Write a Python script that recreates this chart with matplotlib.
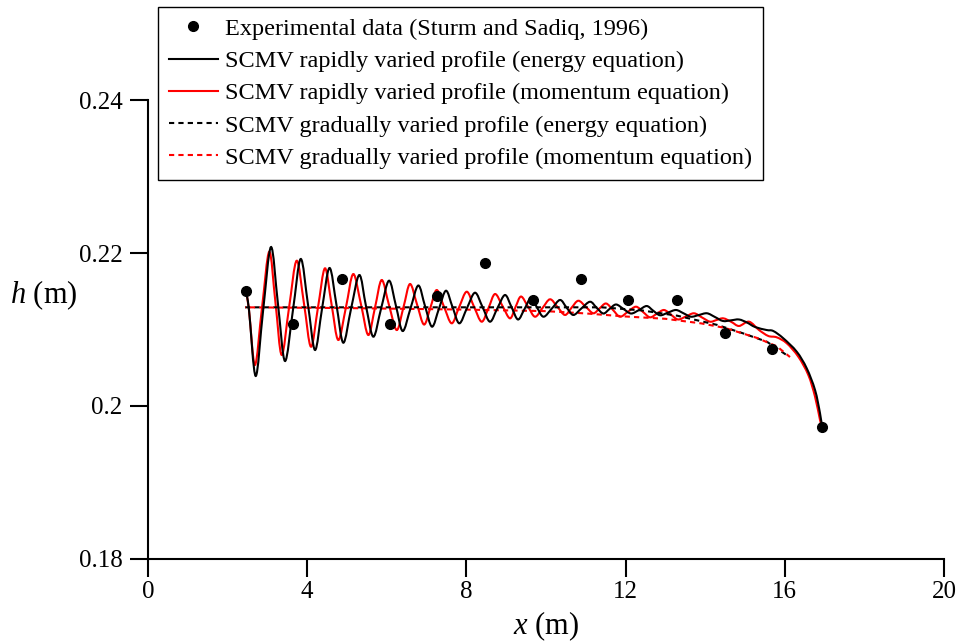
import matplotlib
matplotlib.use('Agg')
import matplotlib.pyplot as plt
from matplotlib.path import Path
from matplotlib.patches import PathPatch
from matplotlib.lines import Line2D

# experimental data (Sturm and Sadiq, 1996)
x_exp = [2.46, 3.64, 4.87, 6.08, 7.26, 8.47, 9.67, 10.88, 12.06, 13.29, 14.50, 15.68, 16.93]
h_exp = [0.2150, 0.2107, 0.2166, 0.2107, 0.2144, 0.2187, 0.2139, 0.2166, 0.2139, 0.2139, 0.2095, 0.2075, 0.1973]

# SCMV rapidly varied profile (energy equation): peaks, troughs and mid crossings
x_rv_e = [2.462, 2.538, 2.706, 2.889, 3.090, 3.266, 3.442, 3.643, 3.837, 4.020,
          4.196, 4.372, 4.560, 4.736, 4.907, 5.101, 5.309, 5.477, 5.661, 5.854,
          6.055, 6.231, 6.399, 6.595, 6.791, 6.960, 7.136, 7.312, 7.487, 7.651,
          7.822, 8.015, 8.216, 8.405, 8.593, 8.781, 8.970, 9.133, 9.296, 9.460,
          9.623, 9.774, 9.937, 10.151, 10.352, 10.515, 10.686, 10.892, 11.106, 11.269,
          11.440, 11.595, 11.759, 11.947, 12.136, 12.337, 12.530, 12.688, 12.864, 13.065,
          13.266, 13.455, 13.643, 13.844, 14.045, 14.246, 14.447, 14.648, 14.849, 15.050,
          15.251, 15.545, 15.711, 15.962, 16.299, 16.550, 16.759, 16.884, 16.935]
h_rv_e = [0.21503, 0.21255, 0.20392, 0.21229, 0.22078, 0.21333, 0.20588, 0.21255, 0.21922, 0.21327,
          0.20732, 0.21268, 0.21804, 0.21320, 0.20827, 0.21268, 0.21712, 0.21307, 0.20906, 0.21268,
          0.21638, 0.21307, 0.20980, 0.21275, 0.21575, 0.21307, 0.21037, 0.21275, 0.21507, 0.21294,
          0.21081, 0.21281, 0.21481, 0.21294, 0.21102, 0.21281, 0.21451, 0.21294, 0.21131, 0.21268,
          0.21412, 0.21288, 0.21167, 0.21277, 0.21386, 0.21288, 0.21190, 0.21277, 0.21363, 0.21286,
          0.21209, 0.21268, 0.21327, 0.21268, 0.21209, 0.21255, 0.21307, 0.21248, 0.21186, 0.21221,
          0.21255, 0.21212, 0.21167, 0.21190, 0.21212, 0.21163, 0.21111, 0.21120, 0.21131, 0.21091,
          0.21033, 0.20993, 0.20980, 0.20885, 0.20710, 0.20493, 0.20209, 0.19905, 0.19726]

# SCMV rapidly varied profile (momentum equation)
x_rv_m = [2.462, 2.538, 2.688, 2.864, 3.048, 3.204, 3.359, 3.543, 3.736, 3.920,
          4.095, 4.271, 4.447, 4.611, 4.781, 4.975, 5.158, 5.352, 5.535, 5.704,
          5.872, 6.055, 6.249, 6.420, 6.583, 6.759, 6.935, 7.098, 7.254, 7.437,
          7.631, 7.814, 8.008, 8.191, 8.384, 8.555, 8.719, 8.907, 9.095, 9.234,
          9.372, 9.548, 9.724, 9.912, 10.101, 10.289, 10.477, 10.641, 10.812, 11.005,
          11.188, 11.344, 11.508, 11.683, 11.859, 12.060, 12.261, 12.437, 12.613, 12.789,
          12.965, 13.141, 13.317, 13.518, 13.719, 13.920, 14.121, 14.284, 14.455, 14.661,
          14.849, 15.101, 15.352, 15.586, 15.796, 16.048, 16.339, 16.590, 16.759, 16.884,
          16.935]
h_rv_m = [0.21503, 0.21255, 0.20536, 0.21281, 0.22017, 0.21346, 0.20667, 0.21281, 0.21899, 0.21337,
          0.20775, 0.21288, 0.21800, 0.21333, 0.20863, 0.21294, 0.21725, 0.21327, 0.20928, 0.21288,
          0.21647, 0.21320, 0.20993, 0.21294, 0.21595, 0.21329, 0.21065, 0.21290, 0.21516, 0.21298,
          0.21081, 0.21288, 0.21494, 0.21298, 0.21102, 0.21281, 0.21464, 0.21307, 0.21146, 0.21294,
          0.21431, 0.21299, 0.21167, 0.21281, 0.21395, 0.21294, 0.21190, 0.21284, 0.21376, 0.21294,
          0.21212, 0.21275, 0.21340, 0.21255, 0.21167, 0.21233, 0.21298, 0.21229, 0.21159, 0.21208,
          0.21255, 0.21193, 0.21131, 0.21171, 0.21212, 0.21157, 0.21102, 0.21124, 0.21146, 0.21098,
          0.21046, 0.21102, 0.20993, 0.20915, 0.20898, 0.20820, 0.20644, 0.20405, 0.20122, 0.19817,
          0.19726]

# SCMV gradually varied profiles
x_gv_e = [2.44, 11.4, 12.4, 13.3, 14.3, 14.95, 15.55, 16.09]
h_gv_e = [0.2129, 0.2129, 0.2125, 0.2118, 0.2106, 0.2095, 0.2084, 0.2065]
x_gv_m = [2.44, 5.0, 8.0, 10.0, 11.0, 12.0, 13.0, 13.9, 14.5, 15.3, 15.8, 16.13]
h_gv_m = [0.2129, 0.2128, 0.2126, 0.2124, 0.2121, 0.2117, 0.2114, 0.2108, 0.2102, 0.2089, 0.2078, 0.2064]

x_ticks = [0, 4, 8, 12, 16, 20]
y_ticks = [0.18, 0.20, 0.22, 0.24]
y_tick_labels = ['0.18', '0.2', '0.22', '0.24']

labels = ['Experimental data (Sturm and Sadiq, 1996)',
          'SCMV rapidly varied profile (energy equation)',
          'SCMV rapidly varied profile (momentum equation)',
          'SCMV gradually varied profile (energy equation)',
          'SCMV gradually varied profile (momentum equation)']

plt.rcParams['font.family'] = ['Liberation Serif', 'DejaVu Serif']
plt.rcParams['mathtext.fontset'] = 'custom'
plt.rcParams['mathtext.rm'] = 'Liberation Serif'
plt.rcParams['mathtext.it'] = 'Liberation Serif:italic'


def smooth_path(xs, ys):
    # smooth line through the read points (Catmull-Rom as cubic Bezier segments)
    n = len(xs)
    verts = [(xs[0], ys[0])]
    codes = [Path.MOVETO]
    for i in range(n - 1):
        a, b = max(i - 1, 0), min(i + 2, n - 1)
        c1 = (xs[i] + (xs[i + 1] - xs[a]) / 6, ys[i] + (ys[i + 1] - ys[a]) / 6)
        c2 = (xs[i + 1] - (xs[b] - xs[i]) / 6, ys[i + 1] - (ys[b] - ys[i]) / 6)
        verts += [c1, c2, (xs[i + 1], ys[i + 1])]
        codes += [Path.CURVE4] * 3
    return Path(verts, codes)


fig = plt.figure(figsize=(9.59, 6.44), dpi=100)
ax = fig.add_axes([0.1543, 0.132, 0.8301, 0.7127])

ax.plot(x_exp, h_exp, 'o', color='black', markersize=7, zorder=5)
ax.add_patch(PathPatch(smooth_path(x_rv_m, h_rv_m), facecolor='none',
                       edgecolor='#ff0000', lw=1.5, zorder=3))
ax.add_patch(PathPatch(smooth_path(x_rv_e, h_rv_e), facecolor='none',
                       edgecolor='black', lw=1.5, zorder=4))
ax.plot(x_gv_e, h_gv_e, color='black', lw=1.5, linestyle=(0, (2.5, 2.0)), zorder=3)
ax.plot(x_gv_m, h_gv_m, color='#ff0000', lw=1.5, linestyle=(2.2, (2.5, 2.0)), zorder=3)

ax.set_xlim(0, 20)
ax.set_ylim(0.18, 0.24)
ax.set_xticks(x_ticks)
ax.set_yticks(y_ticks)
ax.set_yticklabels(y_tick_labels)
ax.spines['top'].set_visible(False)
ax.spines['right'].set_visible(False)
ax.spines['left'].set_linewidth(1.5)
ax.spines['bottom'].set_linewidth(1.5)
ax.tick_params(direction='out', length=13, width=1.5, labelsize=18)
ax.tick_params(axis='y', pad=5.5)
ax.tick_params(axis='x', pad=3)

ax.set_xlabel(r'$x$ (m)', fontsize=22, va='center')
ax.set_ylabel(r'$h$ (m)', fontsize=22, rotation=0, ha='center', va='center')
ax.xaxis.set_label_coords(0.5, -0.146)
ax.yaxis.set_label_coords(-0.131, 0.575)

handles = [Line2D([], [], ls='none', marker='o', color='black', markersize=7),
           Line2D([], [], color='black', lw=1.5),
           Line2D([], [], color='#ff0000', lw=1.5),
           Line2D([], [], color='black', lw=1.5, linestyle=(0, (2.5, 2.0))),
           Line2D([], [], color='#ff0000', lw=1.5, linestyle=(0, (2.5, 2.0)))]
leg = fig.legend(handles, labels, loc='upper left', bbox_to_anchor=(0.1648, 0.9891),
                 borderaxespad=0, fontsize=17.5, frameon=True, fancybox=False,
                 edgecolor='black', framealpha=1, handlelength=2.0, handletextpad=0.3,
                 labelspacing=0.42, borderpad=0.45)
leg.get_frame().set_linewidth(1.0)

fig.savefig('out.png', dpi=100)
